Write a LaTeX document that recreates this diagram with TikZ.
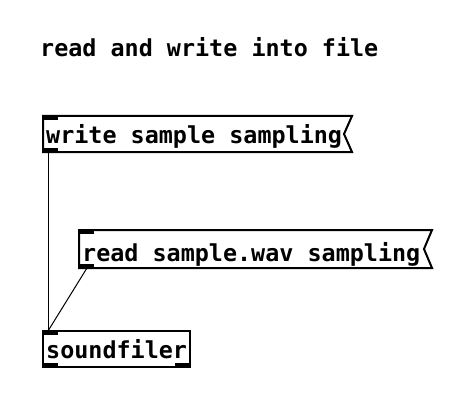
\documentclass[tikz,border=0pt]{standalone}
\usepackage{fontspec}
\setmonofont{DejaVu Sans Mono}
\tikzset{
  pdtext/.style={anchor=base west,inner sep=0pt,font=\ttfamily\bfseries\fontsize{23.4}{23.4}\selectfont},
  pdbox/.style={line width=2pt},
  pdport/.style={fill=black},
  pdwire/.style={line width=1pt}
}
\begin{document}
\begin{tikzpicture}[x=1pt,y=-1pt]
\useasboundingbox (0,0) rectangle (461,420);
% comment
\node[pdtext] (title) at (40,57) {read and write into file};
% write message
\draw[pdbox] (43,116) -- (352,116) -- (344,134) -- (352,152) -- (43,152) -- cycle;
\fill[pdport] (43,116) rectangle (58,120);
\fill[pdport] (43,148) rectangle (58,152);
\node[pdtext] (write) at (46,143) {write sample sampling};
% read message
\draw[pdbox] (79,230) -- (432,230) -- (424,249) -- (432,268) -- (79,268) -- cycle;
\fill[pdport] (79,230) rectangle (94,234);
\fill[pdport] (79,264) rectangle (94,268);
\node[pdtext] (read) at (82,261) {read sample.wav sampling};
% soundfiler object
\draw[pdbox] (43,331) rectangle (190,367);
\fill[pdport] (43,331) rectangle (58,335);
\fill[pdport] (43,363) rectangle (58,367);
\fill[pdport] (175,363) rectangle (190,367);
\node[pdtext] (sf) at (46,358) {soundfiler};
% wires
\coordinate (wout) at (48,152);
\coordinate (rout) at (87,268);
\coordinate (sfin) at (48,331);
\draw[pdwire] (wout) -- (sfin);
\draw[pdwire] (rout) -- (sfin);
\end{tikzpicture}
\end{document}
